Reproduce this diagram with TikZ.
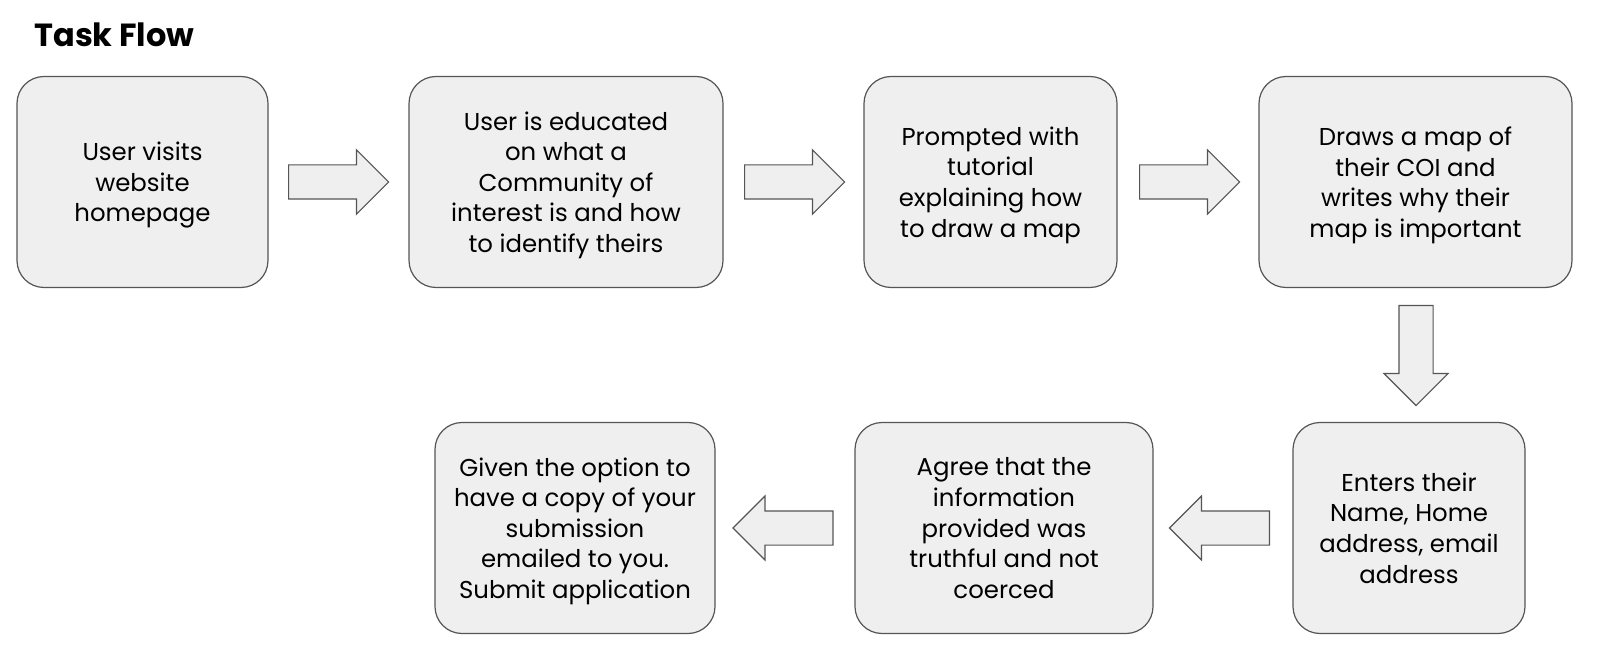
\documentclass[tikz,border=0pt]{standalone}
\usepackage{fontspec}
\setmainfont{Poppins}
\usepackage{tikz}
\usetikzlibrary{shapes.arrows,positioning}
\usepackage{xcolor}
\definecolor{boxfill}{RGB}{239,239,239}
\definecolor{boxline}{RGB}{85,85,85}

\begin{document}
\begin{tikzpicture}[x=0.5pt,y=-0.5pt,
  every node/.style={font=\fontsize{12.2}{15.3}\selectfont},
  taskbox/.style={draw=boxline,fill=boxfill,rounded corners=13.5pt,
    align=center,minimum height=105.5pt,inner sep=0pt,line width=0.6pt,
    text depth=-2pt},
  flowarrow/.style={single arrow,draw=boxline,fill=boxfill,inner xsep=0pt,
    inner ysep=8.25pt,minimum height=50pt,minimum width=31.5pt,
    single arrow head extend=7.5pt,line width=0.6pt,anchor=tail}]
\useasboundingbox (0,0) rectangle (1600,662);
\node[anchor=base west,inner sep=0pt,font=\fontsize{16}{18}\selectfont\bfseries]
  (title) at (34,47) {Task Flow};
% top row
\node[taskbox,minimum width=125.5pt] (visit) at (142.5,182)
  {User visits\\website\\homepage};
\node[taskbox,minimum width=157pt] (educate) at (566,182)
  {User is educated\\on what a\\Community of\\interest is and how\\to identify theirs};
\node[taskbox,minimum width=126.5pt] (tutorial) at (990.5,182)
  {Prompted with\\tutorial\\explaining how\\to draw a map};
\node[taskbox,minimum width=156.5pt] (draw) at (1415.5,182)
  {Draws a map of\\their COI and\\writes why their\\map is important};
% bottom row
\node[taskbox,minimum width=116pt] (enter) at (1409,528)
  {Enters their\\Name, Home\\address, email\\address};
\node[taskbox,minimum width=149pt] (agree) at (1004,528)
  {Agree that the\\information\\provided was\\truthful and not\\coerced};
\node[taskbox,minimum width=140pt] (submit) at (575,528)
  {Given the option to\\have a copy of your\\submission\\emailed to you.\\Submit application};
% block arrows
\node[flowarrow] (a1) at (288,182) {};
\node[flowarrow] (a2) at (744,182) {};
\node[flowarrow] (a3) at (1139,182) {};
\node[flowarrow,shape border rotate=270,inner xsep=8.25pt,inner ysep=0pt]
  (a4) at (1416,305) {};
\node[flowarrow,shape border rotate=180] (a5) at (1270,528) {};
\node[flowarrow,shape border rotate=180] (a6) at (833.5,528) {};
\end{tikzpicture}
\end{document}
